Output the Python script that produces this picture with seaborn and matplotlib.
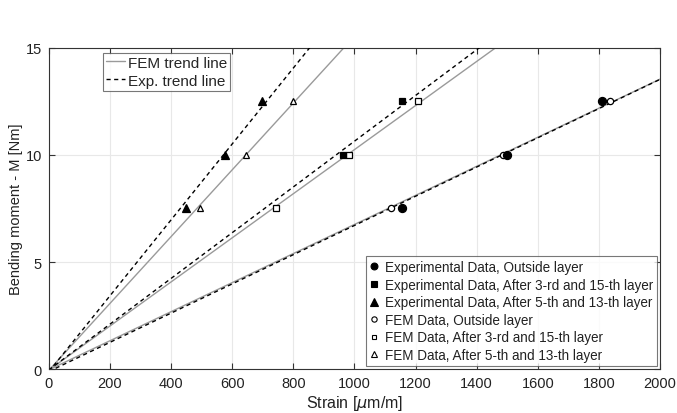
import numpy as np
import pandas as pd
import matplotlib
matplotlib.use("Agg")
import matplotlib.pyplot as plt
from matplotlib.lines import Line2D
import seaborn as sns

# bending moment levels [Nm]
moment = [7.5, 10.0, 12.5]

# strain readings [um/m]
exp_outside = [1155, 1500, 1810]
exp_3_15 = [None, 963, 1155]
exp_5_13 = [448, 576, 697]
fem_outside = [1120, 1485, 1835]
fem_3_15 = [743, 982, 1208]
fem_5_13 = [494, 645, 799]

labels = ["Experimental Data, Outside layer",
          "Experimental Data, After 3-rd and 15-th layer",
          "Experimental Data, After 5-th and 13-th layer",
          "FEM Data, Outside layer",
          "FEM Data, After 3-rd and 15-th layer",
          "FEM Data, After 5-th and 13-th layer"]

sns.set_style("whitegrid")
plt.rcParams['font.family'] = ['Liberation Sans', 'DejaVu Sans']
plt.rcParams['mathtext.fontset'] = 'dejavusans'

fig = plt.figure(figsize=(6.77, 4.14), dpi=100)
ax = fig.add_axes([0.072, 0.106, 0.903, 0.776])

series = [
    (exp_outside, 'o', True, 5.8),
    (exp_3_15, 's', True, 4.5),
    (exp_5_13, '^', True, 6.2),
    (fem_outside, 'o', False, 4.5),
    (fem_3_15, 's', False, 4),
    (fem_5_13, '^', False, 5),
]

xs_line = np.linspace(0, 2000, 200)
handles = []
for (strain, mk, filled, ms), lab in zip(series, labels):
    df = pd.DataFrame({'strain': strain, 'moment': moment}).dropna()
    # trend line through the origin and the measured points
    fx = np.r_[0, df['strain'].values]
    fy = np.r_[0, df['moment'].values]
    k, b = np.polyfit(fx, fy, 1)
    if filled:
        sns.lineplot(x=xs_line, y=k * xs_line + b, ax=ax, color='black',
                     linestyle=(0, (3, 2.5)), linewidth=1.0, zorder=3)
    else:
        sns.lineplot(x=xs_line, y=k * xs_line + b, ax=ax, color='#9a9a9a',
                     linestyle='-', linewidth=1.0, zorder=2)
    face = 'black' if filled else 'white'
    ax.plot(df['strain'], df['moment'], linestyle='none', marker=mk,
            markersize=ms, markerfacecolor=face, markeredgecolor='black',
            markeredgewidth=0.9, zorder=5 if filled else 4)
    handles.append(Line2D([], [], linestyle='none', marker=mk,
                          markersize=ms * 0.85, markerfacecolor=face,
                          markeredgecolor='black', markeredgewidth=0.8))

ax.set_xlim(0, 2000)
ax.set_ylim(0, 15)
ax.set_xticks(range(0, 2001, 200))
ax.set_yticks([0, 5, 10, 15])
ax.grid(True, color='#e8e8e8', linewidth=0.8)
for s in ax.spines.values():
    s.set_color('#333333')
    s.set_linewidth(0.8)
ax.tick_params(axis='both', direction='in', length=4, color='#333333',
               labelsize=10.5, labelcolor='#222222', top=True, right=True,
               bottom=True, left=True, pad=5)
ax.set_xlabel(r"Strain [$\mu$m/m]", fontsize=11.5, color='#222222', labelpad=2)
ax.set_ylabel("Bending moment - M [Nm]", fontsize=10.5, color='#222222', labelpad=2)

line_handles = [Line2D([], [], color='#9a9a9a', linewidth=1.0),
                Line2D([], [], color='black', linewidth=1.0, linestyle=(0, (3, 2.5)))]
leg1 = ax.legend(line_handles, ["FEM trend line", "Exp. trend line"],
                 loc='upper left', bbox_to_anchor=(0.088, 0.985), fontsize=11,
                 frameon=True, fancybox=False, edgecolor='#555555',
                 handlelength=1.3, handletextpad=0.15, borderpad=0.2,
                 labelspacing=0.25, borderaxespad=0)
leg1.get_frame().set_linewidth(0.8)
ax.add_artist(leg1)

leg2 = ax.legend(handles, labels, loc='lower right', bbox_to_anchor=(0.995, 0.01),
                 fontsize=9.75, frameon=True, fancybox=False, edgecolor='#555555',
                 handlelength=0.6, handletextpad=0.5, borderpad=0.3,
                 labelspacing=0.26, borderaxespad=0)
leg2.get_frame().set_linewidth(0.8)
for t in leg2.get_texts():
    t.set_color('#222222')

fig.savefig("out.png", dpi=100)
